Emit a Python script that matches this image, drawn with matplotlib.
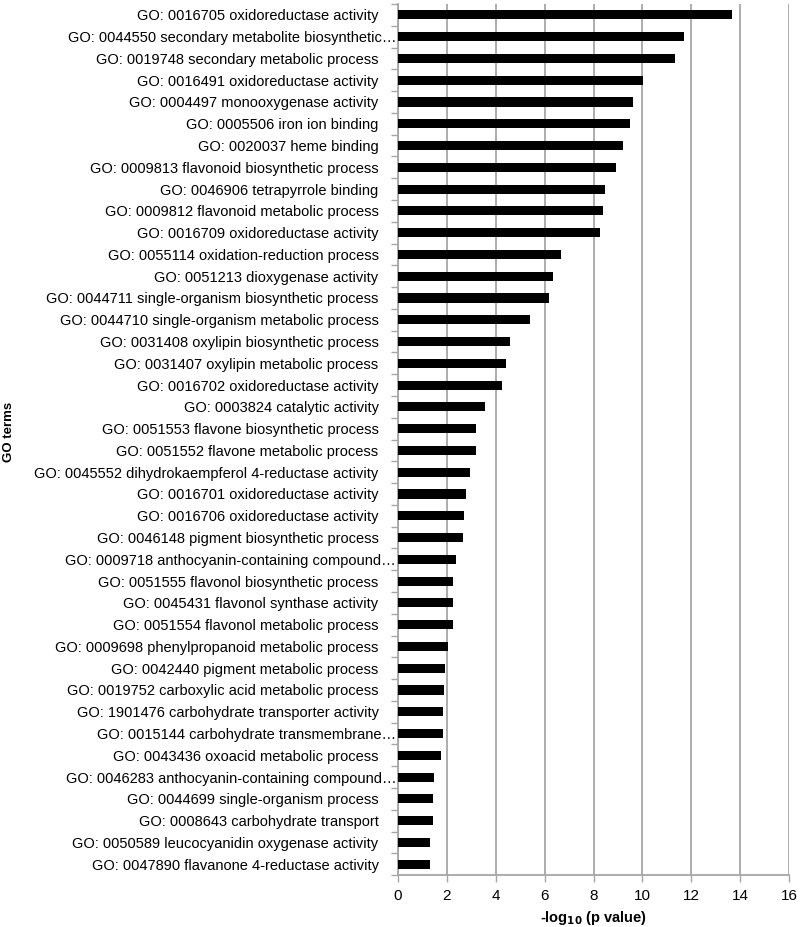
import matplotlib.pyplot as plt
import numpy as np

plt.rcParams['font.family'] = ['Liberation Sans', 'DejaVu Sans']

terms = [
    'GO: 0016705 oxidoreductase activity',
    'GO: 0044550 secondary metabolite biosynthetic\u2026',
    'GO: 0019748 secondary metabolic process',
    'GO: 0016491 oxidoreductase activity',
    'GO: 0004497 monooxygenase activity',
    'GO: 0005506 iron ion binding',
    'GO: 0020037 heme binding',
    'GO: 0009813 flavonoid biosynthetic process',
    'GO: 0046906 tetrapyrrole binding',
    'GO: 0009812 flavonoid metabolic process',
    'GO: 0016709 oxidoreductase activity',
    'GO: 0055114 oxidation-reduction process',
    'GO: 0051213 dioxygenase activity',
    'GO: 0044711 single-organism biosynthetic process',
    'GO: 0044710 single-organism metabolic process',
    'GO: 0031408 oxylipin biosynthetic process',
    'GO: 0031407 oxylipin metabolic process',
    'GO: 0016702 oxidoreductase activity',
    'GO: 0003824 catalytic activity',
    'GO: 0051553 flavone biosynthetic process',
    'GO: 0051552 flavone metabolic process',
    'GO: 0045552 dihydrokaempferol 4-reductase activity',
    'GO: 0016701 oxidoreductase activity',
    'GO: 0016706 oxidoreductase activity',
    'GO: 0046148 pigment biosynthetic process',
    'GO: 0009718 anthocyanin-containing compound\u2026',
    'GO: 0051555 flavonol biosynthetic process',
    'GO: 0045431 flavonol synthase activity',
    'GO: 0051554 flavonol metabolic process',
    'GO: 0009698 phenylpropanoid metabolic process',
    'GO: 0042440 pigment metabolic process',
    'GO: 0019752 carboxylic acid metabolic process',
    'GO: 1901476 carbohydrate transporter activity',
    'GO: 0015144 carbohydrate transmembrane\u2026',
    'GO: 0043436 oxoacid metabolic process',
    'GO: 0046283 anthocyanin-containing compound\u2026',
    'GO: 0044699 single-organism process',
    'GO: 0008643 carbohydrate transport',
    'GO: 0050589 leucocyanidin oxygenase activity',
    'GO: 0047890 flavanone 4-reductase activity',
]
neg_log_p = [13.68, 11.69, 11.32, 10.03, 9.60, 9.51, 9.19, 8.94,
             8.47, 8.38, 8.25, 6.66, 6.36, 6.19, 5.40, 4.58,
             4.42, 4.26, 3.55, 3.18, 3.18, 2.95, 2.78, 2.70,
             2.66, 2.39, 2.26, 2.26, 2.26, 2.06, 1.91, 1.87,
             1.83, 1.83, 1.75, 1.47, 1.43, 1.43, 1.30, 1.30]

fig = plt.figure(figsize=(8, 9.27), dpi=100)
ax = fig.add_axes([0.4975, 0.056, 0.4888, 0.9397])

grid_c = '#a6a6a6'
y = np.arange(len(terms))
ax.barh(y, neg_log_p, height=0.42, color='black', zorder=3)
ax.set_ylim(len(terms) - 0.5, -0.5)
ax.set_xlim(0, 16)
ax.set_xticks(range(0, 17, 2))
ax.xaxis.grid(True, color=grid_c, linewidth=1.3, zorder=0)

ax.set_yticks(y)
ax.set_yticklabels(terms, fontsize=10.5)
ax.set_yticks(np.arange(-0.5, len(terms), 1), minor=True)
ax.tick_params(axis='y', which='major', length=0, pad=14)
ax.tick_params(axis='y', which='minor', length=5, color=grid_c, width=1)
ax.tick_params(axis='x', length=5, color=grid_c, width=1, labelsize=11, pad=5)

# ellipsis labels run right up to the axis
for lab in ax.get_yticklabels():
    if lab.get_text().endswith('\u2026'):
        lab.set_x(0.045)

for s in ['top', 'right']:
    ax.spines[s].set_visible(False)
for s in ['left', 'bottom']:
    ax.spines[s].set_color(grid_c)
    ax.spines[s].set_linewidth(1.3)

ax.set_xlabel(r'-log$_{\mathbf{10}}$ (p value)', fontsize=10.5, fontweight='bold', labelpad=4)
fig.text(0.011, 0.534, 'GO terms', rotation=90, fontsize=9.5, fontweight='bold',
         ha='center', va='center')

fig.savefig('out.png', dpi=100)
